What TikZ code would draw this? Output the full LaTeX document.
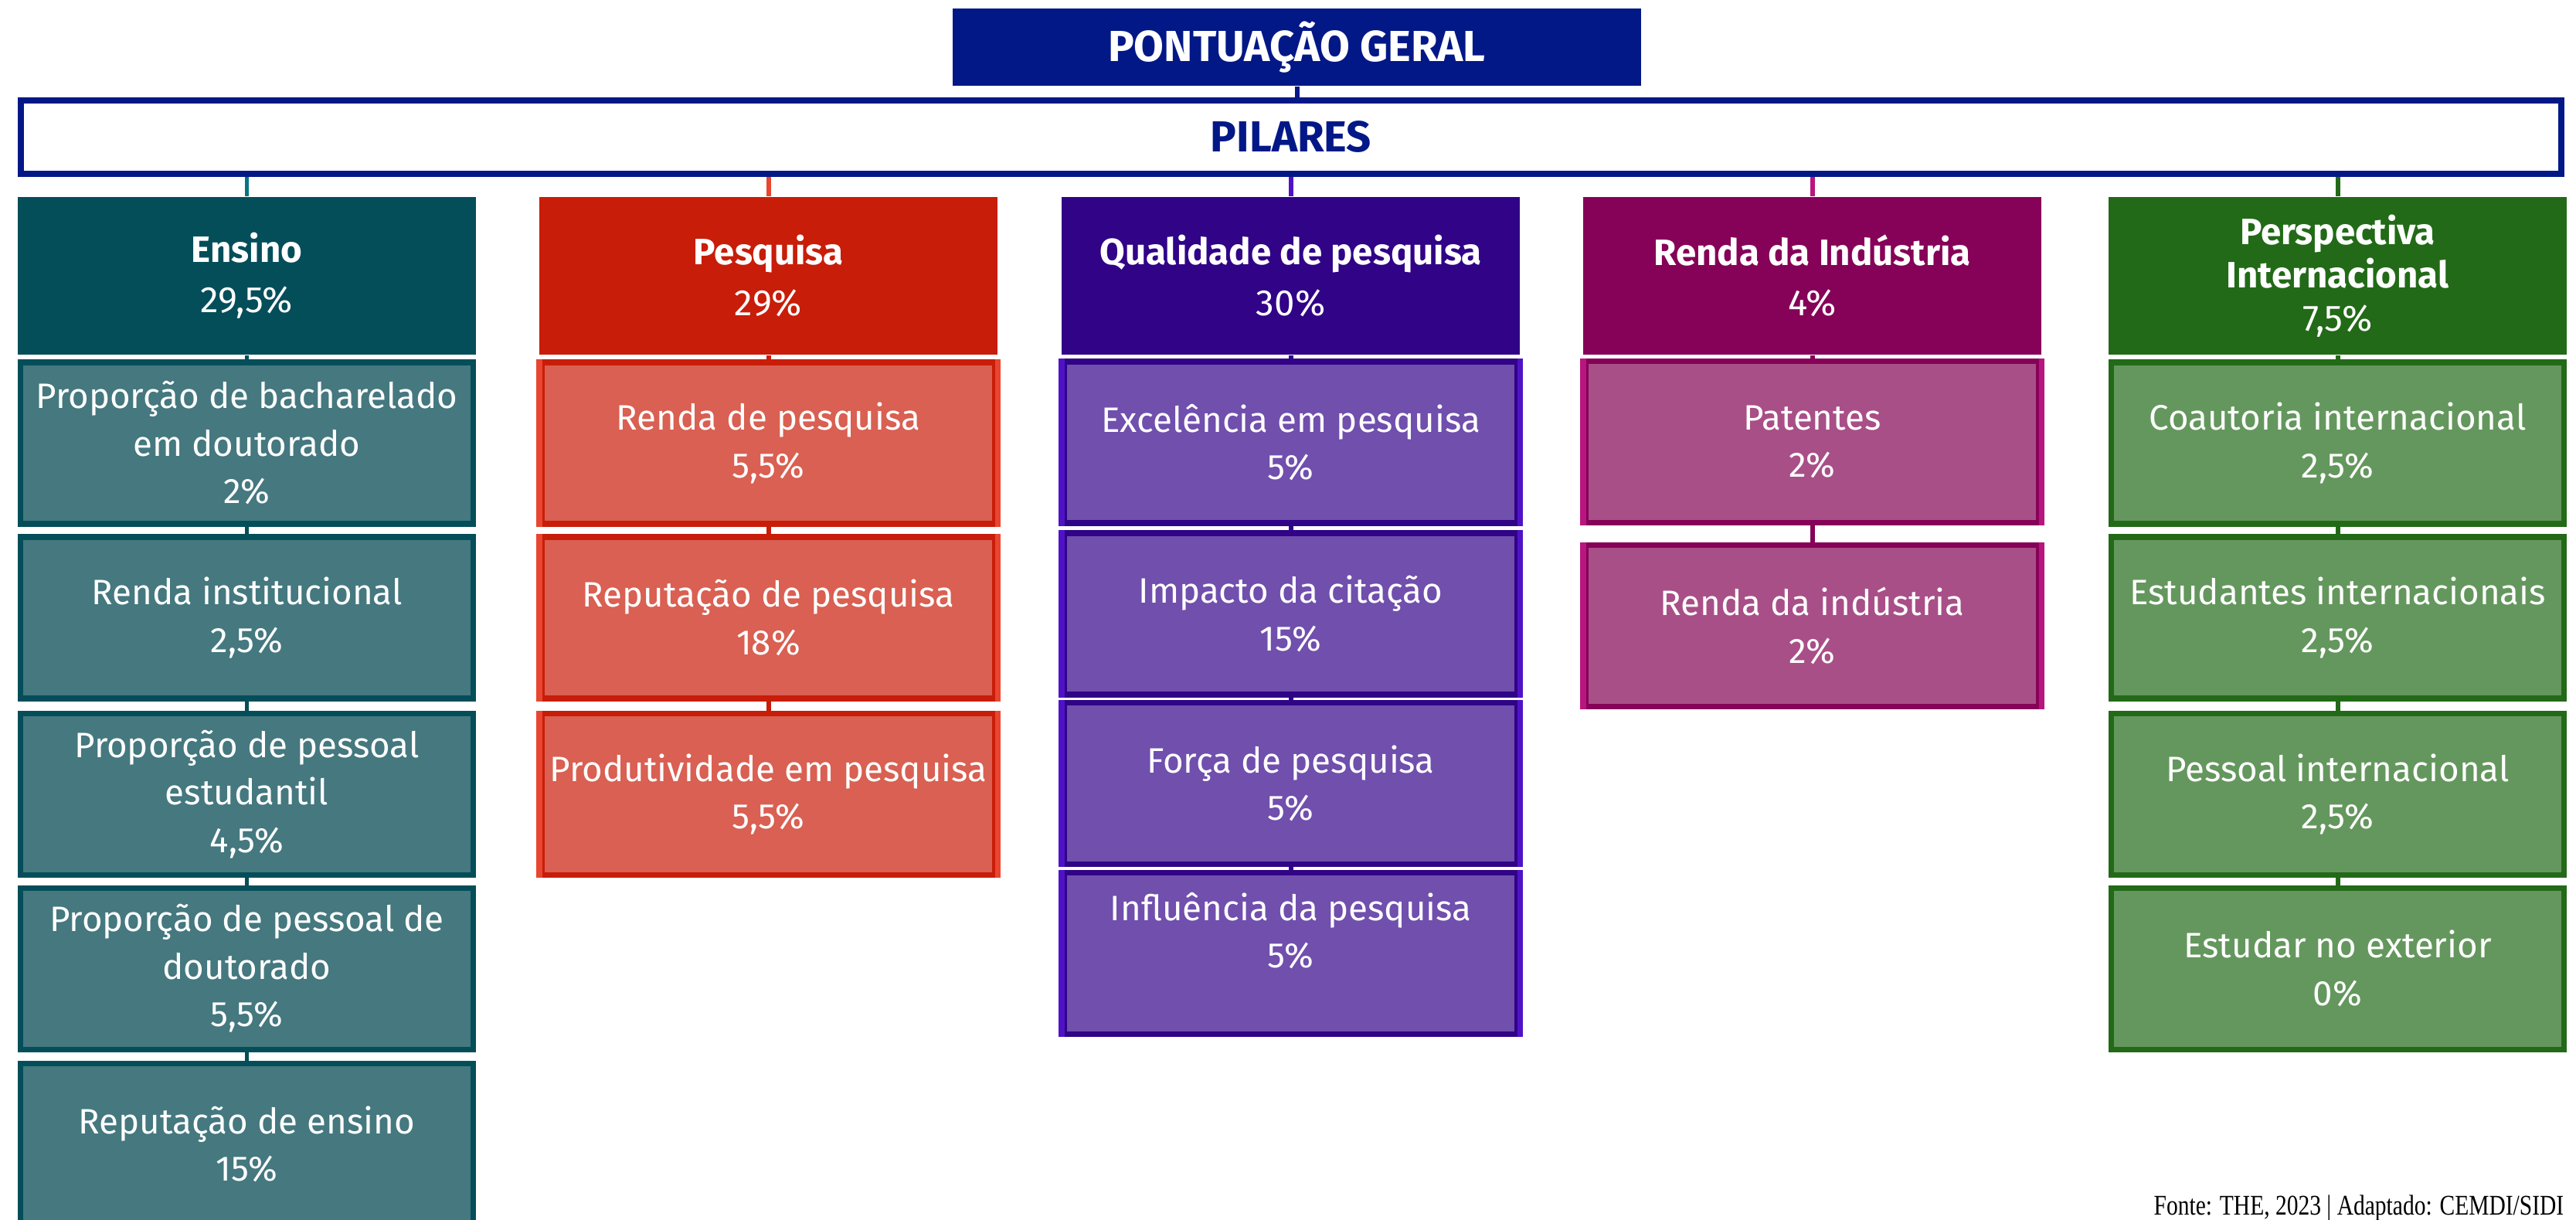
\documentclass[tikz,border=0pt]{standalone}
\usepackage{fontspec}
\setmainfont{Fira Sans}
\newfontfamily\fontefont[FakeStretch=0.8]{Liberation Serif}
\definecolor{azul}{HTML}{031887}
\definecolor{ensA}{HTML}{044E5A}\definecolor{ensB}{HTML}{45787F}\definecolor{ensC}{HTML}{077483}
\definecolor{pesA}{HTML}{C81D09}\definecolor{pesB}{HTML}{D96052}\definecolor{pesC}{HTML}{E94530}
\definecolor{quaA}{HTML}{300387}\definecolor{quaB}{HTML}{704FAD}\definecolor{quaC}{HTML}{4F12C7}
\definecolor{renA}{HTML}{850258}\definecolor{renB}{HTML}{A84F88}\definecolor{renC}{HTML}{B9157F}
\definecolor{perA}{HTML}{226A17}\definecolor{perB}{HTML}{64975D}\definecolor{perC}{HTML}{226A17}
\begin{document}
\begin{tikzpicture}[font=\fontsize{13}{17.5}\selectfont, line join=miter,
		pilar/.style={fill=#1A, text=white, inner sep=0pt, align=center, minimum width=5.93cm, minimum height=2.04cm, font=\fontsize{13.5}{18.5}\selectfont},
		item/.style={fill=#1B, draw=#1A, line width=2pt, text=white, inner sep=0pt, align=center, minimum width=5.86cm, minimum height=2.09cm},
		liga/.style={draw=#1, line width=1.7pt}]
	\useasboundingbox (0,0) rectangle (33.34,-15.79);
	\node[fill=azul, text=white, minimum width=8.91cm, minimum height=1cm, font=\fontsize{16}{18}\selectfont\bfseries] (geral) at (16.785,-0.61) {PONTUAÇÃO GERAL};
	\node[draw=azul, line width=0.08cm, text=azul, minimum width=32.88cm, minimum height=0.95cm, font=\fontsize{16}{18}\selectfont\bfseries] (pilares) at (16.71,-1.775) {PILARES};
	% pilares
	\node[pilar=ens] (ens) at (3.195,-3.57) {\textbf{Ensino}\\29,5\%};
	\node[pilar=pes] (pes) at (9.945,-3.57) {\textbf{Pesquisa}\\29\%};
	\node[pilar=qua] (qua) at (16.705,-3.57) {\textbf{Qualidade de pesquisa}\\30\%};
	\node[pilar=ren] (ren) at (23.455,-3.57) {\textbf{Renda da Indústria}\\4\%};
	\node[pilar=per, font=\fontsize{13.5}{16}\selectfont] (per) at (30.255,-3.57) {\textbf{Perspectiva}\\\textbf{Internacional}\\7,5\%};
	% indicadores
	\node[item=ens] (ens1) at (3.195,-5.735) {Proporção de bacharelado\\em doutorado\\2\%};
	\node[item=ens] (ens2) at (3.195,-7.995) {Renda institucional\\2,5\%};
	\node[item=ens] (ens3) at (3.195,-10.28) {Proporção de pessoal\\estudantil\\4,5\%};
	\node[item=ens] (ens4) at (3.195,-12.535) {Proporção de pessoal de\\doutorado\\5,5\%};
	\node[item=ens] (ens5) at (3.195,-14.81) {Reputação de ensino\\15\%};
	\node[item=pes] (pes1) at (9.945,-5.735) {Renda de pesquisa\\5,5\%};
	\node[item=pes] (pes2) at (9.945,-7.995) {Reputação de pesquisa\\18\%};
	\node[item=pes] (pes3) at (9.945,-10.28) {Produtividade em pesquisa\\5,5\%};
	\node[item=qua] (qua1) at (16.705,-5.725) {Excelência em pesquisa\\5\%};
	\node[item=qua] (qua2) at (16.705,-7.945) {Impacto da citação\\15\%};
	\node[item=qua] (qua3) at (16.705,-10.14) {Força de pesquisa\\5\%};
	\node[item=qua, label={[name=qua4t, text=white, align=center, yshift=0.29cm]center:{Influência da pesquisa\\5\%}}] (qua4) at (16.705,-12.335) {};
	\node[item=ren] (ren1) at (23.455,-5.72) {Patentes\\2\%};
	\node[item=ren] (ren2) at (23.455,-8.10) {Renda da indústria\\2\%};
	\node[item=per] (per1) at (30.255,-5.735) {Coautoria internacional\\2,5\%};
	\node[item=per] (per2) at (30.255,-7.995) {Estudantes internacionais\\2,5\%};
	\node[item=per] (per3) at (30.255,-10.28) {Pessoal internacional\\2,5\%};
	\node[item=per] (per4) at (30.255,-12.535) {Estudar no exterior\\0\%};
	\foreach \n/\k in {pes1/pesC,pes2/pesC,pes3/pesC,qua1/quaC,qua2/quaC,qua3/quaC,qua4/quaC,ren1/renC,ren2/renC}
		\draw[\k, line width=2pt] (\n.north west)--(\n.south west) (\n.north east)--(\n.south east);
	% ligacoes
	\draw[liga=azul] (geral.south)--(geral.south |- pilares.north);
	\foreach \c in {ens,pes,qua,ren,per} \draw[liga=\c C] (\c.north |- pilares.south)--(\c.north);
	\foreach \a/\b/\k in {ens/ens1/ensA,ens1/ens2/ensA,ens2/ens3/ensA,ens3/ens4/ensA,ens4/ens5/ensA,
		pes/pes1/pesA,pes1/pes2/pesA,pes2/pes3/pesA,qua/qua1/quaA,qua1/qua2/quaA,qua2/qua3/quaA,qua3/qua4/quaA,
		ren/ren1/renA,ren1/ren2/renA,per/per1/perA,per1/per2/perA,per2/per3/perA,per3/per4/perA}
		\draw[liga=\k] (\a.south)--(\b.north);
	\node[anchor=base east, inner sep=0pt, font=\fontefont\fontsize{10.5}{12}\selectfont] (fonte) at (33.19,-15.72) {Fonte: THE, 2023 | Adaptado: CEMDI/SIDI};
\end{tikzpicture}
\end{document}
